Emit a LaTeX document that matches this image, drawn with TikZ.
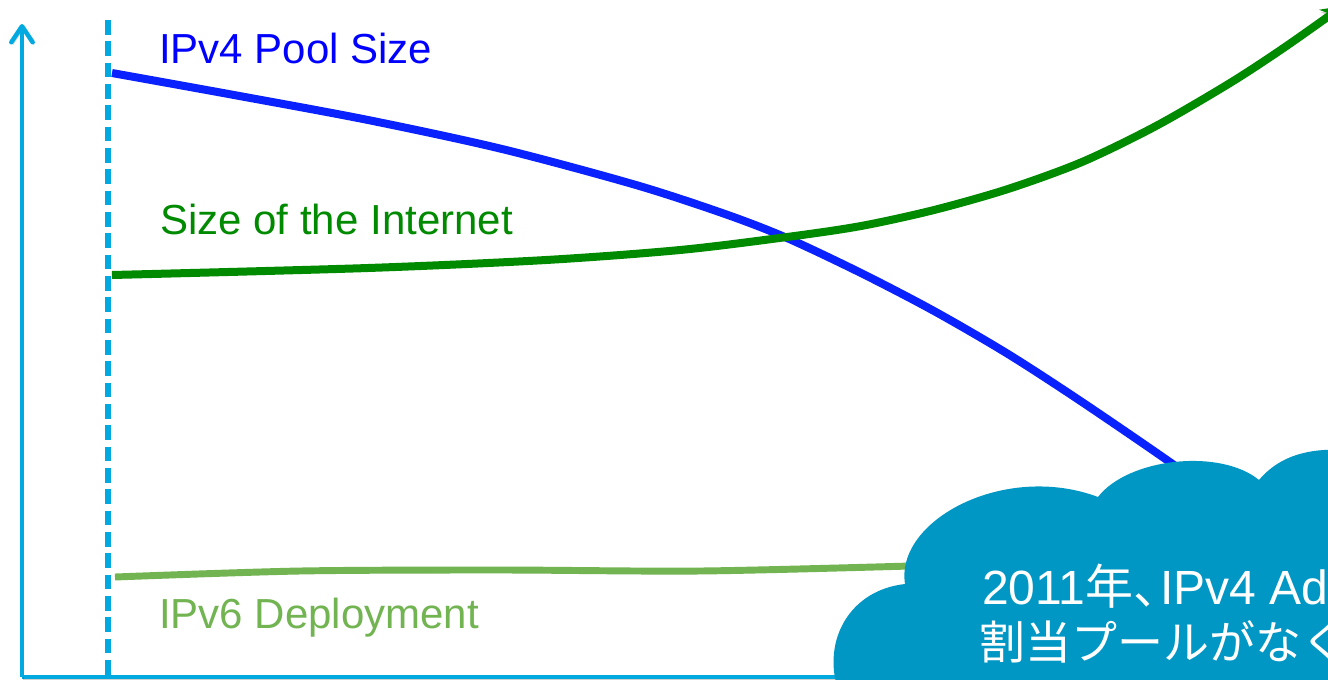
\documentclass[tikz,border=0pt]{standalone}
\usepackage{fontspec}
\setmainfont{Liberation Sans}
\newfontfamily\cjk{Noto Sans CJK JP}
\newfontfamily\cjkp[RawFeature=+palt]{Noto Sans CJK JP}
\usetikzlibrary{arrows.meta}
\definecolor{axiscyan}{RGB}{0,169,224}
\definecolor{poolblue}{RGB}{10,34,255}
\definecolor{pooltext}{RGB}{0,0,255}
\definecolor{netgreen}{RGB}{0,138,0}
\definecolor{v6green}{RGB}{114,180,82}
\definecolor{cloudblue}{RGB}{0,151,196}
\tikzset{
  shadowed/.style={preaction={draw=black,opacity=.18,transform canvas={shift={(1.2pt,-2pt)}}}},
  axisline/.style={draw=axiscyan,line width=3.4pt},
  curveline/.style={line width=6pt,shadowed},
  lbl/.style={anchor=base west,inner sep=0pt,font=\fontsize{31.5}{38}\selectfont},
  cloudtxt/.style={anchor=base west,inner sep=0pt,text=white,font=\fontsize{36}{41}\selectfont},
}
\begin{document}
\begin{tikzpicture}[x=0.75pt,y=-0.75pt]
\clip (0,0) rectangle (1328,679);
\fill[white] (0,0) rectangle (1328,679);

% axes
\coordinate (origin) at (22,677);
\coordinate (ytop) at (22,24);
\coordinate (xend) at (1340,677);
\draw[axisline,shadowed] (origin) -- (xend);
\draw[axisline,shadowed,-{Straight Barb[length=12pt,width=16pt,line cap=round,line join=round]}] (origin) -- (ytop);

% dashed start line
\coordinate (dtop) at (108,20);
\coordinate (dbot) at (108,690);
\draw[axiscyan,line width=3.8pt,dash pattern=on 11pt off 5pt] (dtop) -- (dbot);

% IPv6 deployment curve
\draw[v6green,line width=5.2pt,shadowed] plot[smooth,tension=0.5] coordinates {(115,577) (300,571) (500,570) (700,571) (910,566)};

% IPv4 pool curve
\draw[poolblue,curveline] plot[smooth,tension=0.5] coordinates {(112,73) (234,95) (368,120) (502,149) (636,185) (725,214) (787,238) (861,273) (934,311) (1008,354) (1082,402) (1174,465) (1220,500)};

% Internet size curve
\draw[netgreen,curveline,-{Stealth[length=16pt,width=16pt]}] plot[smooth,tension=0.5] coordinates {(112,275) (368,268) (546,260) (680,250) (787,237) (861,226) (934,210) (1008,189) (1082,162) (1156,126) (1230,83) (1285,47) (1343,6)};

% labels
\node[lbl,text=pooltext] (poollbl) at (159,63) {IPv4 Pool Size};
\node[lbl,text=netgreen] (netlbl) at (160,234) {Size of the Internet};
\node[lbl,text=v6green] (v6lbl) at (159,628) {IPv6 Deployment};

% cloud
\fill[cloudblue] (838,690) .. controls (822,640) and (850,590) .. (905,584)
  .. controls (895,520) and (1005,462) .. (1098,497)
  .. controls (1128,458) and (1220,448) .. (1259,480)
  .. controls (1280,455) and (1310,448) .. (1345,450)
  -- (1345,690) -- cycle;

\node[cloudtxt] (cloudA) at (982,604) {2011{\cjk 年}{\cjkp 、}\hspace{2pt}IPv4 Ad};
\node[cloudtxt,font=\fontsize{34.5}{41}\selectfont] (cloudB) at (979,659) {{\cjk 割当プールがなく}};
\end{tikzpicture}
\end{document}
